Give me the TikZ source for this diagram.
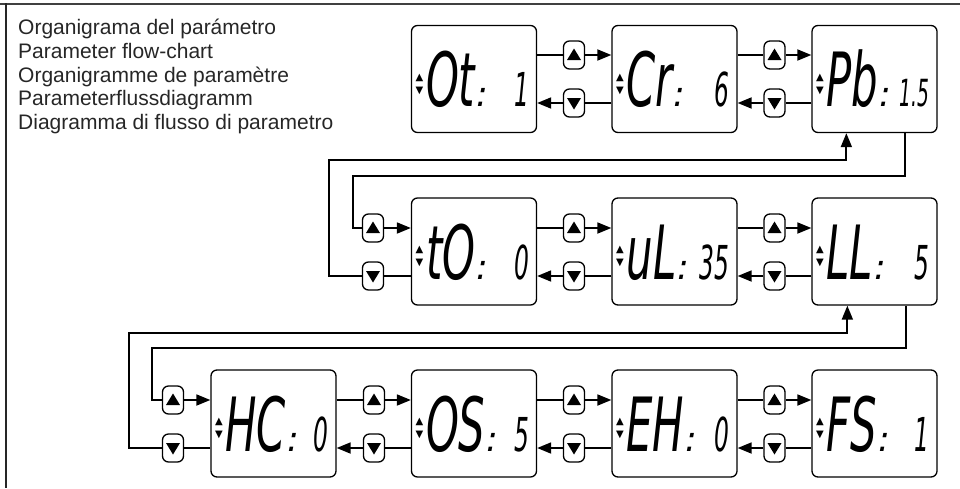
\documentclass[tikz,border=0pt]{standalone}
\usepackage{graphicx}
\usepackage{fontspec}
\setmainfont{Liberation Sans}
\newfontfamily\lcdf{DejaVu Sans}
\newfontfamily\symf{DejaVu Sans}
\usetikzlibrary{arrows.meta,calc}
\newcommand\lcdtall[1]{\scalebox{0.95}[1.7]{#1}}
\newcommand\lcdval[1]{\scalebox{0.85}[1.7]{#1}}
\newcommand\uptri[1]{\fill ([shift={(-7,5)}]#1.center) -- ([shift={(7,5)}]#1.center) -- ([shift={(0,-6.5)}]#1.center) -- cycle;}
\newcommand\dntri[1]{\fill ([shift={(-7,-5)}]#1.center) -- ([shift={(7,-5)}]#1.center) -- ([shift={(0,6.5)}]#1.center) -- cycle;}
\tikzset{
  lcdbox/.style={draw, line width=1.3pt, rounded corners=6pt, minimum width=125pt, minimum height=107pt, inner sep=0pt},
  btn/.style={draw, line width=1.3pt, rounded corners=6pt, minimum width=21pt, minimum height=28pt, inner sep=0pt, fill=white},
  conn/.style={line width=1.8pt},
  arr/.style={conn, -{Triangle[length=14pt,width=11pt]}},
  maintxt/.style={anchor=base west, inner sep=0pt, font=\lcdf\itshape\fontsize{44}{44}\selectfont},
  valtxt/.style={anchor=base east, inner sep=0pt},
  colontxt/.style={anchor=base west, inner sep=0pt, font=\lcdf\itshape\fontsize{35}{35}\selectfont},
  symtxt/.style={inner sep=0pt, font=\symf\fontsize{10}{10}\selectfont},
  captxt/.style={anchor=base west, inner sep=0pt, font=\fontsize{21}{24}\selectfont, text=black!85}
}
\begin{document}
\begin{tikzpicture}[x=1pt,y=-1pt]
\useasboundingbox (0,0) rectangle (960,488);
% frame
\draw[line width=2pt, black!75] (0,4) -- (960,4);
\draw[line width=2pt, black!85] (6,3) -- (6,488);
% captions
\node[captxt] (t1) at (18,34) {Organigrama del parámetro};
\node[captxt] (t2) at (18,58) {Parameter flow-chart};
\node[captxt] (t3) at (18,82) {Organigramme de paramètre};
\node[captxt] (t4) at (18,105) {Parameterflussdiagramm};
\node[captxt] (t5) at (18,129) {Diagramma di flusso di parametro};
% displays
\foreach \n/\cx/\cy/\mt/\vt/\vs in {
  1/474/79/Ot/1/27.5, 2/674.5/79/Cr/6/27.5, 3/874.5/79/Pb/1.5/22,
  4/474/251.5/tO/0/27.5, 5/674.5/251.5/uL/35/27.5, 6/874.5/251.5/LL/5/27.5,
  7/273.5/423.5/HC/0/27.5, 8/474/423.5/OS/5/27.5, 9/674.5/423.5/EH/0/27.5, 10/874.5/423.5/FS/1/27.5}{
  \node[lcdbox] (b\n) at (\cx,\cy) {};
  \node[maintxt] (m\n) at ($(b\n.north west)+(15,82)$) {\lcdtall{\mt}};
  \node[colontxt] (c\n) at ($(m\n.base east)+(0.5,0)$) {:};
  \node[valtxt, font=\lcdf\itshape\fontsize{\vs}{\vs}\selectfont] (v\n) at ($(b\n.north east)+(-8,82)$) {\lcdval{\vt}};
  \node[symtxt] (ua\n) at ($(b\n.north west)+(8.5,53)$) {▲};
  \node[symtxt] (da\n) at ($(b\n.north west)+(8.5,66)$) {▼};
}
% buttons
\foreach \nm/\bx/\by in {u12/574/55, u23/774.5/55, uL2/373/228, u45/574/228, u56/774.5/228,
  uL3/173/400, u78/374/400, u89/574/400, u910/774.5/400}{
  \node[btn] (\nm) at (\bx,\by) {};
  \uptri{\nm}
}
\foreach \nm/\bx/\by in {d12/574/103, d23/774.5/103, dL2/373/276, d45/574/276, d56/774.5/276,
  dL3/173/448, d78/374/448, d89/574/448, d910/774.5/448}{
  \node[btn] (\nm) at (\bx,\by) {};
  \dntri{\nm}
}
% horizontal links between neighbours
\foreach \a/\b/\u/\d in {1/2/u12/d12, 2/3/u23/d23, 4/5/u45/d45, 5/6/u56/d56,
  7/8/u78/d78, 8/9/u89/d89, 9/10/u910/d910}{
  \draw[conn] (b\a.east |- \u) -- (\u);
  \draw[arr] (\u) -- (b\b.west |- \u);
  \draw[conn] (b\b.west |- \d) -- (\d);
  \draw[arr] (\d) -- (b\a.east |- \d);
}
% loop row 1 -> row 2
\coordinate (p3in) at ($(b3.south west)+(35,0)$);
\coordinate (p3out) at ($(b3.south east)+(-33,0)$);
\coordinate (k1a) at (329,160);
\coordinate (k1b) at (353,176);
\draw[conn] (p3out) |- (k1b) |- (uL2);
\draw[arr] (uL2) -- (b4.west |- uL2);
\draw[conn] (b4.west |- dL2) -- (dL2);
\draw[arr] (dL2) -| (k1a) -| (p3in);
% loop row 2 -> row 3
\coordinate (p6in) at ($(b6.south west)+(36,0)$);
\coordinate (p6out) at ($(b6.south east)+(-32,0)$);
\coordinate (k2a) at (129,333);
\coordinate (k2b) at (152,348);
\draw[conn] (p6out) |- (k2b) |- (uL3);
\draw[arr] (uL3) -- (b7.west |- uL3);
\draw[conn] (b7.west |- dL3) -- (dL3);
\draw[arr] (dL3) -| (k2a) -| (p6in);
\end{tikzpicture}
\end{document}
